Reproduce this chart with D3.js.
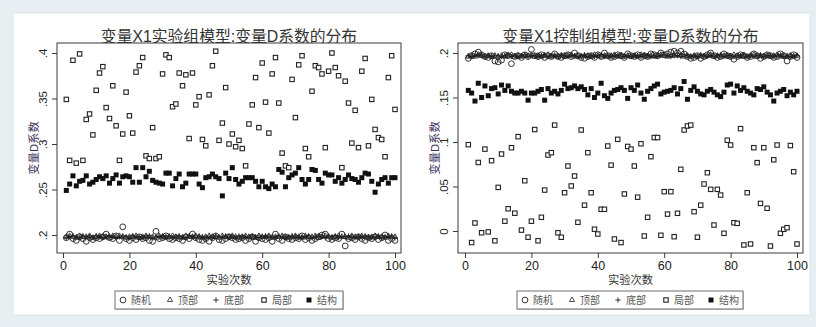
<!DOCTYPE html>
<html>
<head>
<meta charset="utf-8">
<script src="https://cdn.jsdelivr.net/npm/d3@7"></script>
<style>
  html, body { margin: 0; padding: 0; background: #e8eff3; }
  svg { display: block; }
  text { font-family: "Liberation Sans", Arial, "Noto Sans CJK SC", sans-serif; }
</style>
</head>
<body>
<svg id="chart" width="816" height="327"></svg>
<script>
// ---- series (one value per run, runs 1..100) ----
const seriesNames = ["随机", "顶部", "底部", "局部", "结构"];

// treatment-group model
const expRandom = [
  0.197,0.201,0.196,0.194,0.198,0.196,0.193,0.197,0.195,0.197,
  0.196,0.198,0.201,0.197,0.196,0.199,0.194,0.209,0.196,0.194,
  0.197,0.195,0.198,0.196,0.197,0.194,0.193,0.204,0.196,0.197,
  0.199,0.196,0.195,0.197,0.196,0.194,0.198,0.196,0.201,0.197,
  0.195,0.194,0.196,0.193,0.197,0.199,0.195,0.194,0.196,0.198,
  0.197,0.195,0.196,0.197,0.194,0.196,0.198,0.193,0.197,0.196,
  0.195,0.197,0.193,0.201,0.196,0.194,0.198,0.196,0.195,0.197,
  0.196,0.199,0.195,0.197,0.194,0.196,0.198,0.200,0.201,0.196,
  0.195,0.197,0.196,0.201,0.188,0.196,0.197,0.195,0.198,0.196,
  0.194,0.197,0.196,0.198,0.195,0.197,0.200,0.194,0.196,0.194];
const expTop = [
  0.198,0.199,0.198,0.197,0.199,0.198,0.198,0.199,0.197,0.198,
  0.199,0.198,0.198,0.197,0.199,0.198,0.199,0.198,0.197,0.198,
  0.198,0.199,0.197,0.198,0.199,0.198,0.198,0.197,0.199,0.198,
  0.197,0.198,0.199,0.198,0.198,0.197,0.199,0.198,0.198,0.199,
  0.198,0.197,0.198,0.199,0.198,0.198,0.197,0.199,0.198,0.198,
  0.199,0.198,0.197,0.198,0.199,0.198,0.198,0.197,0.199,0.198,
  0.198,0.199,0.197,0.198,0.198,0.199,0.198,0.197,0.198,0.199,
  0.198,0.197,0.199,0.198,0.198,0.199,0.197,0.198,0.199,0.198,
  0.197,0.198,0.199,0.198,0.198,0.197,0.199,0.198,0.198,0.199,
  0.198,0.197,0.198,0.199,0.198,0.198,0.197,0.199,0.198,0.198];
const expBottom = [
  0.197,0.198,0.199,0.198,0.197,0.199,0.198,0.198,0.197,0.199,
  0.198,0.197,0.198,0.199,0.198,0.197,0.198,0.199,0.198,0.197,
  0.199,0.198,0.198,0.197,0.198,0.199,0.197,0.198,0.198,0.199,
  0.198,0.199,0.197,0.198,0.199,0.198,0.197,0.199,0.198,0.197,
  0.199,0.198,0.197,0.198,0.197,0.199,0.198,0.198,0.199,0.197,
  0.198,0.197,0.199,0.198,0.198,0.197,0.199,0.198,0.197,0.198,
  0.199,0.198,0.198,0.197,0.199,0.198,0.197,0.198,0.199,0.198,
  0.197,0.198,0.198,0.199,0.197,0.198,0.199,0.198,0.197,0.199,
  0.198,0.199,0.197,0.198,0.198,0.199,0.198,0.197,0.198,0.198,
  0.199,0.198,0.197,0.198,0.199,0.197,0.198,0.198,0.199,0.197];
const expLocal = [
  0.349,0.282,0.392,0.279,0.399,0.282,0.327,0.333,0.310,0.359,
  0.378,0.385,0.340,0.328,0.364,0.320,0.282,0.311,0.357,0.331,
  0.312,0.379,0.386,0.395,0.287,0.284,0.318,0.284,0.286,0.377,
  0.398,0.395,0.341,0.344,0.378,0.364,0.376,0.306,0.378,0.343,
  0.352,0.305,0.298,0.354,0.386,0.402,0.304,0.323,0.362,0.300,
  0.311,0.297,0.304,0.295,0.276,0.322,0.343,0.373,0.318,0.389,
  0.346,0.312,0.377,0.395,0.345,0.290,0.276,0.274,0.371,0.329,
  0.387,0.397,0.295,0.286,0.358,0.386,0.384,0.377,0.296,0.380,
  0.400,0.384,0.375,0.274,0.369,0.345,0.301,0.337,0.296,0.380,
  0.394,0.298,0.349,0.316,0.307,0.305,0.286,0.373,0.397,0.338];
const expStruct = [
  0.249,0.256,0.265,0.254,0.259,0.260,0.265,0.256,0.258,0.261,
  0.264,0.262,0.265,0.257,0.262,0.266,0.257,0.264,0.265,0.264,
  0.258,0.274,0.258,0.274,0.264,0.270,0.260,0.258,0.257,0.256,
  0.268,0.268,0.254,0.262,0.267,0.253,0.257,0.267,0.267,0.267,
  0.256,0.252,0.263,0.264,0.267,0.264,0.262,0.243,0.268,0.262,
  0.274,0.261,0.256,0.259,0.263,0.263,0.263,0.259,0.253,0.259,
  0.253,0.251,0.256,0.253,0.272,0.269,0.253,0.263,0.266,0.268,
  0.274,0.261,0.256,0.261,0.272,0.271,0.261,0.257,0.268,0.266,
  0.266,0.259,0.263,0.257,0.261,0.266,0.262,0.261,0.258,0.263,
  0.268,0.267,0.259,0.247,0.256,0.261,0.263,0.257,0.263,0.263];

// control-group model
const ctrlRandom = [
  0.194,0.197,0.199,0.201,0.198,0.196,0.195,0.197,0.191,0.190,
  0.192,0.198,0.197,0.188,0.196,0.197,0.195,0.198,0.196,0.204,
  0.197,0.196,0.198,0.195,0.197,0.196,0.199,0.196,0.195,0.197,
  0.198,0.196,0.200,0.197,0.195,0.194,0.196,0.197,0.195,0.198,
  0.196,0.200,0.197,0.195,0.196,0.198,0.197,0.195,0.199,0.197,
  0.196,0.198,0.195,0.197,0.196,0.199,0.198,0.197,0.200,0.198,
  0.199,0.201,0.202,0.200,0.202,0.199,0.196,0.194,0.195,0.197,
  0.194,0.196,0.198,0.200,0.197,0.195,0.196,0.199,0.197,0.196,
  0.193,0.196,0.198,0.197,0.195,0.196,0.199,0.197,0.194,0.196,
  0.198,0.197,0.195,0.196,0.199,0.197,0.191,0.196,0.198,0.195];
const ctrlTop = [
  0.196,0.197,0.196,0.198,0.197,0.196,0.197,0.196,0.197,0.196,
  0.197,0.196,0.197,0.198,0.196,0.197,0.196,0.197,0.197,0.198,
  0.196,0.197,0.196,0.197,0.198,0.196,0.197,0.196,0.197,0.196,
  0.197,0.198,0.196,0.197,0.196,0.197,0.197,0.196,0.198,0.197,
  0.196,0.197,0.196,0.197,0.198,0.196,0.197,0.196,0.197,0.196,
  0.197,0.196,0.198,0.197,0.196,0.197,0.196,0.197,0.198,0.197,
  0.196,0.197,0.197,0.198,0.197,0.196,0.197,0.196,0.197,0.196,
  0.197,0.196,0.197,0.198,0.196,0.197,0.196,0.197,0.197,0.196,
  0.198,0.197,0.196,0.197,0.196,0.197,0.198,0.196,0.197,0.196,
  0.197,0.196,0.197,0.198,0.196,0.197,0.196,0.197,0.196,0.197];
const ctrlBottom = [
  0.197,0.196,0.197,0.197,0.198,0.196,0.197,0.196,0.197,0.197,
  0.196,0.197,0.198,0.196,0.197,0.196,0.197,0.198,0.196,0.197,
  0.197,0.196,0.197,0.198,0.196,0.197,0.197,0.196,0.198,0.197,
  0.196,0.197,0.197,0.196,0.197,0.198,0.196,0.197,0.196,0.197,
  0.198,0.196,0.197,0.196,0.197,0.197,0.198,0.196,0.197,0.196,
  0.197,0.197,0.196,0.198,0.197,0.196,0.197,0.196,0.197,0.198,
  0.197,0.196,0.197,0.197,0.196,0.198,0.197,0.196,0.197,0.196,
  0.198,0.197,0.196,0.197,0.196,0.197,0.198,0.196,0.197,0.197,
  0.196,0.197,0.197,0.198,0.196,0.197,0.196,0.197,0.198,0.196,
  0.197,0.197,0.196,0.197,0.198,0.196,0.197,0.196,0.197,0.197];
const ctrlLocal = [
  0.097,-0.013,0.009,0.077,-0.002,0.092,-0.001,0.079,-0.011,0.049,
  0.0865,0.011,0.025,0.0936,0.020,0.106,0.001,0.0565,-0.007,0.011,
  0.114,-0.011,0.0154,0.046,0.0854,0.088,0.119,-0.002,-0.007,0.043,
  0.073,0.0506,0.0618,0.0098,0.1135,0.029,0.088,0.043,0.002,-0.0034,
  0.0244,0.0244,0.0955,0.074,-0.009,0.103,-0.013,0.0416,0.095,0.092,
  0.073,0.038,0.098,-0.0056,0.0154,0.0835,0.105,0.105,-0.0048,0.0442,
  0.019,0.0442,-0.0064,0.0199,0.0693,0.1135,0.118,0.119,0.0217,-0.007,
  0.029,0.0528,0.0655,0.0468,0.0067,0.0468,0.0404,-0.0026,0.102,0.0966,
  0.0093,0.0086,0.115,-0.0157,0.043,-0.0146,0.0936,0.0768,0.031,0.0936,
  0.0255,-0.0169,0.080,0.0966,-0.0026,0.0019,0.0037,0.096,0.0666,-0.0146];
const ctrlStruct = [
  0.158,0.155,0.146,0.166,0.150,0.163,0.152,0.160,0.161,0.154,
  0.164,0.158,0.163,0.157,0.155,0.155,0.157,0.155,0.147,0.155,
  0.155,0.157,0.159,0.147,0.160,0.155,0.157,0.154,0.158,0.165,
  0.160,0.161,0.163,0.160,0.162,0.159,0.153,0.160,0.150,0.155,
  0.166,0.152,0.149,0.155,0.158,0.159,0.161,0.158,0.149,0.161,
  0.158,0.164,0.155,0.148,0.157,0.160,0.163,0.165,0.154,0.156,
  0.157,0.158,0.161,0.154,0.160,0.168,0.148,0.158,0.162,0.157,
  0.154,0.153,0.157,0.159,0.156,0.153,0.151,0.156,0.164,0.165,
  0.155,0.163,0.158,0.161,0.157,0.155,0.153,0.160,0.159,0.162,
  0.156,0.153,0.146,0.155,0.157,0.159,0.152,0.156,0.153,0.157];

// ---- axis ticks ----
const xTicks = [0, 20, 40, 60, 80, 100];
const expYTicks = [0.2, 0.25, 0.3, 0.35, 0.4];
const expYLabels = [".2", ".25", ".3", ".35", ".4"];
const ctrlYTicks = [0, 0.05, 0.1, 0.15, 0.2];
const ctrlYLabels = ["0", ".05", ".1", ".15", ".2"];

const panels = [
  {
    title: "变量X1实验组模型:变量D系数的分布",
    series: [expRandom, expTop, expBottom, expLocal, expStruct],
    yTicks: expYTicks, yLabels: expYLabels,
    frame: { x0: 57, x1: 401, y0: 43, y1: 253 },
    xRange: [63, 395], yDomain: [0.2, 0.4], yRange: [235, 53],
    legendX: 115, legendW: 228
  },
  {
    title: "变量X1控制组模型:变量D系数的分布",
    series: [ctrlRandom, ctrlTop, ctrlBottom, ctrlLocal, ctrlStruct],
    yTicks: ctrlYTicks, yLabels: ctrlYLabels,
    frame: { x0: 458, x1: 803, y0: 43, y1: 253 },
    xRange: [465, 797], yDomain: [0, 0.2], yRange: [231, 53],
    legendX: 517, legendW: 226
  }
];

const svg = d3.select("#chart");
const ink = "#1e1e1e";

// white card behind both graphs
svg.append("rect").attr("x", 13).attr("y", 13).attr("width", 797).attr("height", 302)
  .attr("fill", "#ffffff").attr("stroke", "#dde6ea").attr("stroke-width", 1);

// marker painters, one per series
const plusPath = s => `M${-s},0H${s}M0,${-s}V${s}`;
const markers = [
  sel => sel.append("circle").attr("r", 2.9).attr("fill", "none").attr("stroke", ink).attr("stroke-width", 0.9),
  sel => sel.append("path").attr("d", d3.symbol(d3.symbolTriangle, 12)()).attr("fill", "none").attr("stroke", ink).attr("stroke-width", 0.8),
  sel => sel.append("path").attr("d", plusPath(2.6)).attr("fill", "none").attr("stroke", ink).attr("stroke-width", 0.9),
  sel => sel.append("rect").attr("x", -2.2).attr("y", -2.2).attr("width", 4.4).attr("height", 4.4)
            .attr("fill", "#fff").attr("stroke", "#222").attr("stroke-width", 1.1),
  sel => sel.append("rect").attr("x", -2.5).attr("y", -2.5).attr("width", 5).attr("height", 5).attr("fill", "#111")
];

panels.forEach(p => {
  const g = svg.append("g");
  const f = p.frame;
  const x = d3.scaleLinear().domain([0, 100]).range(p.xRange);
  const y = d3.scaleLinear().domain(p.yDomain).range(p.yRange);
  const cx = (f.x0 + f.x1) / 2, cy = (f.y0 + f.y1) / 2;

  // title
  g.append("text").attr("x", cx).attr("y", 36).attr("text-anchor", "middle")
    .attr("dominant-baseline", "central").attr("font-size", 15.8).attr("fill", "#333")
    .text(p.title);

  // plot frame
  g.append("rect").attr("x", f.x0).attr("y", f.y0).attr("width", f.x1 - f.x0).attr("height", f.y1 - f.y0)
    .attr("fill", "#fff").attr("stroke", "#3a3a3a").attr("stroke-width", 1);

  // y axis
  const yAxis = d3.axisLeft(y).tickValues(p.yTicks).tickSize(5).tickPadding(3)
    .tickFormat((d, i) => p.yLabels[i]);
  const ya = g.append("g").attr("transform", `translate(${f.x0},0)`).call(yAxis);
  ya.select(".domain").remove();
  ya.selectAll(".tick line").attr("stroke", "#3a3a3a");
  ya.selectAll(".tick text").attr("font-size", 11.5).attr("fill", "#222")
    .attr("text-anchor", "middle").attr("x", 0).attr("dy", 0)
    .attr("transform", "translate(-10,0) rotate(-90)");

  // x axis
  const xAxis = d3.axisBottom(x).tickValues(xTicks).tickSize(5).tickPadding(3);
  const xa = g.append("g").attr("transform", `translate(0,${f.y1})`).call(xAxis);
  xa.select(".domain").remove();
  xa.selectAll(".tick line").attr("stroke", "#3a3a3a");
  xa.selectAll(".tick text").attr("font-size", 12.5).attr("fill", "#222");

  // axis titles
  g.append("text").attr("transform", `translate(${f.x0 - 23},${cy}) rotate(-90)`)
    .attr("text-anchor", "middle").attr("dominant-baseline", "central")
    .attr("font-size", 11.3).attr("fill", "#3d2f5c").text("变量D系数");
  g.append("text").attr("x", cx).attr("y", 280).attr("text-anchor", "middle")
    .attr("dominant-baseline", "central").attr("font-size", 11.3).attr("fill", "#333").text("实验次数");

  // points, drawn series by series
  p.series.forEach((vals, si) => {
    const sg = g.append("g");
    const pts = sg.selectAll("g").data(vals).join("g")
      .attr("transform", (d, i) => `translate(${x(i + 1)},${y(d)})`);
    markers[si](pts);
  });

  // legend
  const lg = g.append("g").attr("transform", `translate(${p.legendX},291)`);
  lg.append("rect").attr("x", 1).attr("y", 1).attr("width", p.legendW).attr("height", 18).attr("fill", "#cfcfcf");
  lg.append("rect").attr("width", p.legendW).attr("height", 18).attr("fill", "#fff").attr("stroke", "#6f6f6f").attr("stroke-width", 1);
  const symX = [8, 55, 101, 149, 194];
  seriesNames.forEach((name, i) => {
    const it = lg.append("g").attr("transform", `translate(${symX[i]},9)`);
    markers[i](it);
    lg.append("text").attr("x", symX[i] + 8).attr("y", 9.5).attr("dominant-baseline", "central")
      .attr("font-size", 10).attr("fill", "#555").text(name);
  });
});
</script>
</body>
</html>
